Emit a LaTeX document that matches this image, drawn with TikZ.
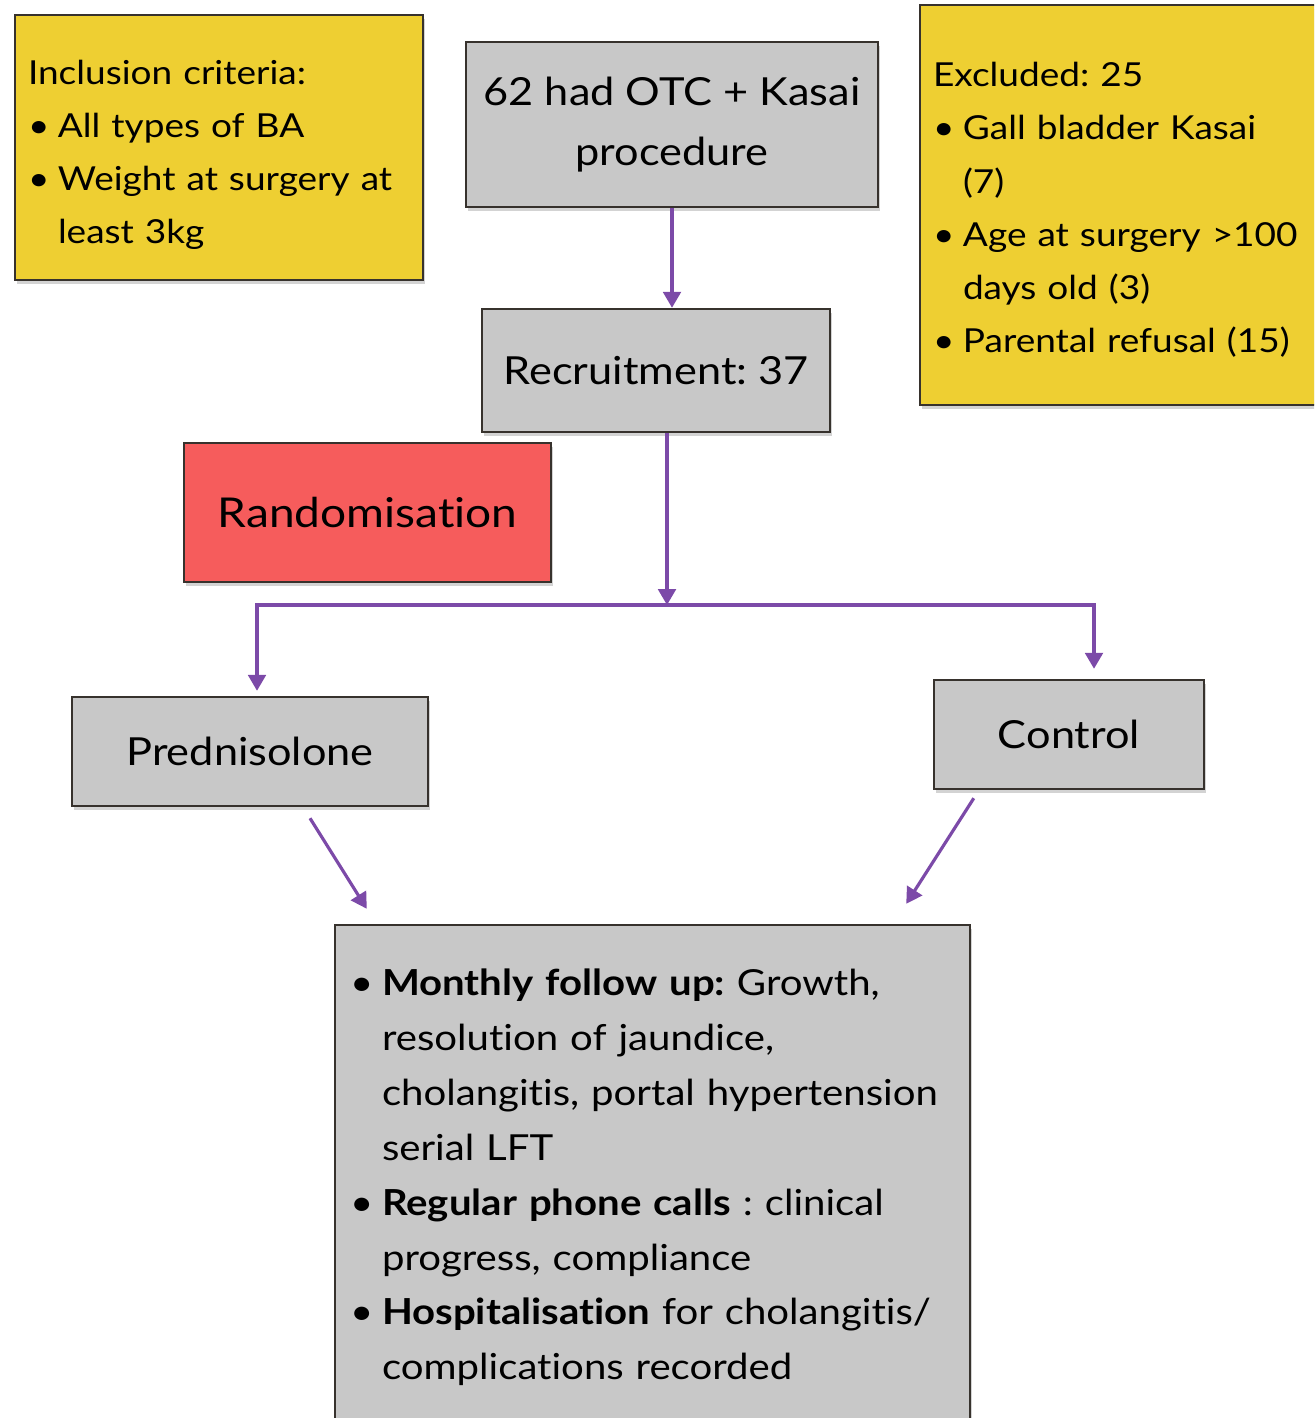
\documentclass[tikz,border=0pt]{standalone}
\usepackage{fontspec}
\setmainfont{Lato}[FakeStretch=1.12, Ligatures=NoCommon]
\usetikzlibrary{arrows.meta,shadows}

\newcommand{\bul}{\makebox[0.3cm][l]{\textbullet}}
\newcommand{\hang}{\hspace*{0.3cm}}
\frenchspacing

\begin{document}
\begin{tikzpicture}[
        box/.style={draw=boxline, line width=0.7pt, inner sep=0pt,
            drop shadow={shadow xshift=0.7pt, shadow yshift=-1.2pt, opacity=0.35}},
        note_box/.style={box, fill=noteyellow, align=left, inner xsep=0.13cm,
            font=\fontsize{9.4}{15.1}\selectfont},
        step_box/.style={box, fill=stepgray, align=center,
            font=\fontsize{11}{17}\selectfont},
        flow/.style={draw=flowpurple, line width=0.9pt,
            -{Triangle[width=5pt, length=4.5pt]}}
    ]

        \definecolor{noteyellow}{RGB}{238, 207, 50}
        \definecolor{stepgray}{RGB}{200, 200, 200}
        \definecolor{randred}{RGB}{246, 92, 92}
        \definecolor{flowpurple}{RGB}{124, 74, 168}
        \definecolor{boxline}{RGB}{55, 50, 45}

        \useasboundingbox (0, 0) rectangle (13.14, -14.18);
        \clip (0, 0) rectangle (13.14, -14.18);

        % eligibility
        \node[note_box, minimum width=4.08cm, minimum height=2.65cm, text width=3.82cm]
            (incl) at (2.19, -1.475) {\rule{0pt}{0.39cm}Inclusion criteria:\\
            \bul All types of BA\\
            \bul Weight at surgery at\\
            \hang least 3kg};

        \node[step_box, minimum width=4.12cm, minimum height=1.65cm]
            (otc) at (6.72, -1.245) {62 had OTC + Kasai\\ procedure};

        \node[note_box, minimum width=4.2cm, minimum height=4.0cm, text width=3.94cm]
            (excl) at (11.30, -2.05) {\rule{0pt}{0.34cm}Excluded: 25\\
            \bul Gall bladder Kasai\\
            \hang (7)\\
            \bul Age at surgery >100\\
            \hang days old (3)\\
            \bul Parental refusal (15)};

        \node[step_box, minimum width=3.48cm, minimum height=1.23cm]
            (recruit) at (6.56, -3.705) {Recruitment: 37};

        \node[step_box, fill=randred, minimum width=3.67cm, minimum height=1.39cm,
            font=\fontsize{11.7}{17}\selectfont]
            (rand) at (3.675, -5.125) {Randomisation};

        % arms
        \node[step_box, minimum width=3.56cm, minimum height=1.09cm]
            (pred) at (2.50, -7.515) {Prednisolone};

        \node[step_box, minimum width=2.70cm, minimum height=1.09cm]
            (ctrl) at (10.69, -7.345) {Control};

        \node[step_box, align=left, inner xsep=0.15cm, text width=6.05cm,
            minimum width=6.35cm, minimum height=5.05cm,
            font=\fontsize{10.2}{15.6}\selectfont]
            (follow) at (6.525, -11.775) {%
            \makebox[0.32cm][l]{\textbullet}\textbf{Monthly follow up:} Growth,\\
            \hspace*{0.32cm}resolution of jaundice,\\
            \hspace*{0.32cm}cholangitis, portal hypertension\\
            \hspace*{0.32cm}serial LFT\\
            \makebox[0.32cm][l]{\textbullet}\textbf{Regular phone calls} : clinical\\
            \hspace*{0.32cm}progress, compliance\\
            \makebox[0.32cm][l]{\textbullet}\textbf{Hospitalisation} for cholangitis/\\
            \hspace*{0.32cm}complications recorded};

        \coordinate (split) at (6.67, -6.05);

        \draw[flow] (otc) -- (recruit.north -| otc);
        \draw[flow] (recruit.south -| split) -- (split);
        \draw[flow] (split) -| ([xshift=0.07cm, yshift=0.05cm]pred.north);
        \draw[flow] (split) -| ([xshift=0.25cm, yshift=0.1cm]ctrl.north);
        \draw[flow] ([xshift=0.6cm, yshift=-0.11cm]pred.south)
            -- ([xshift=0.33cm, yshift=0.15cm]follow.north west);
        \draw[flow] ([xshift=0.41cm, yshift=-0.08cm]ctrl.south west)
            -- ([xshift=-0.65cm, yshift=0.2cm]follow.north east);
    \end{tikzpicture}
\end{document}
